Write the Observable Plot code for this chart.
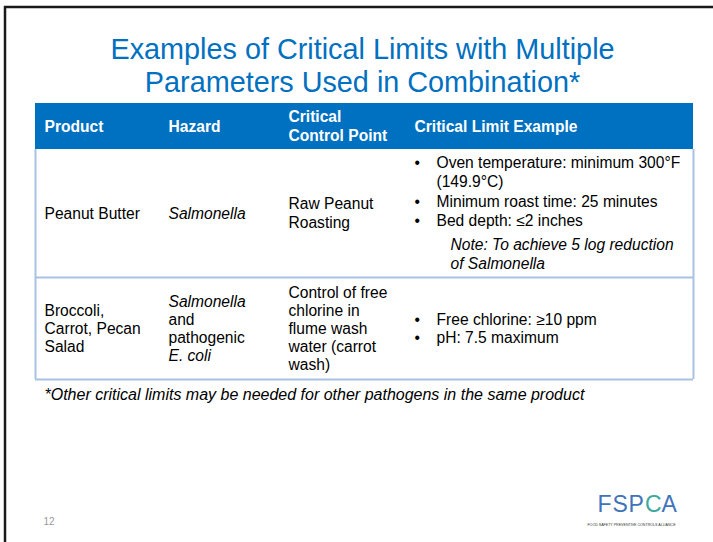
<!DOCTYPE html>
<html><head><meta charset="utf-8">
<script src="https://cdn.jsdelivr.net/npm/d3@7"></script>
<script src="https://cdn.jsdelivr.net/npm/@observablehq/plot@0.6"></script>
<style>html,body{margin:0;padding:0;background:#fff;overflow:hidden}</style>
</head><body><div id="chart"></div>
<script>
// ---- content ----
const titleLines = ["Examples of Critical Limits with Multiple", "Parameters Used in Combination*"];
const headers = ["Product", "Hazard", "Critical\nControl Point", "Critical Limit Example"];
const products = ["Peanut Butter", "Broccoli,\nCarrot, Pecan\nSalad"];
const hazards = ["Salmonella", "Salmonella\nand\npathogenic\nE. coli"];
const controlPoints = ["Raw Peanut\nRoasting", "Control of free\nchlorine in\nflume wash\nwater (carrot\nwash)"];
const limitBullets = [
  ["Oven temperature: minimum 300°F\n(149.9°C)", "Minimum roast time: 25 minutes", "Bed depth: ≤2 inches"],
  ["Free chlorine: ≥10 ppm", "pH: 7.5 maximum"]
];
const limitNotes = ["Note: To achieve 5 log reduction\nof Salmonella", ""];
const italicLines = ["Salmonella", "E. coli", "Note: To achieve 5 log reduction", "of Salmonella"];
const footnote = "*Other critical limits may be needed for other pathogens in the same product";
const slideNumber = "12";
const logoLetters = ["F", "S", "P", "C", "A"];
const logoTagline = "FOOD SAFETY PREVENTIVE CONTROLS ALLIANCE";

// ---- layout ----
const W = 713, H = 542;
const FONT = "Liberation Sans, Arial, Helvetica, sans-serif";
const fs = 15.6;
const titleX = 362, titleY = [49, 82];
const colX = [44, 168, 288, 414];
const bulletTextX = 436, noteX = 450;
const tableLeft = 35, tableRight = 693;
const rowEdges = [103, 149, 277, 379];
const lineH = [19, 19.5, 18];
const noteGap = 4;
const footY = 394;
const blue = "#0070C0", lineBlue = "#A8C2E3";

const center = r => (rowEdges[r] + rowEdges[r + 1]) / 2;

// build text lines
const plain = [], italic = [], bold = [], bullets = [];
function place(list, x, r) {
  let total = 0;
  list.forEach((l, i) => { if (i > 0) total += lineH[r] + (l.gap || 0); });
  let y = center(r) - total / 2;
  list.forEach((l, i) => {
    if (i > 0) y += lineH[r] + (l.gap || 0);
    const rec = {text: l.text, x: l.x ?? x, y};
    if (r === 0) bold.push(rec);
    else if (italicLines.includes(l.text)) italic.push(rec);
    else plain.push(rec);
    if (l.bullet) bullets.push({text: "•", x: colX[3], y});
  });
}
const simple = s => s.split("\n").map(t => ({text: t}));

headers.forEach((h, c) => place(simple(h), colX[c], 0));
products.forEach((p, i) => place(simple(p), colX[0], i + 1));
hazards.forEach((p, i) => place(simple(p), colX[1], i + 1));
controlPoints.forEach((p, i) => place(simple(p), colX[2], i + 1));
limitBullets.forEach((items, i) => {
  const list = [];
  items.forEach(it => it.split("\n").forEach((t, k) => list.push({text: t, x: bulletTextX, bullet: k === 0})));
  if (limitNotes[i]) limitNotes[i].split("\n").forEach((t, k) => list.push({text: t, x: noteX, gap: k === 0 ? noteGap : 0}));
  place(list, bulletTextX, i + 1);
});

const logoX = [597, 612, 628, 644.5, 661];
const logoFill = ["#3F74BA", "#3F74BA", "#3F74BA", "#3BA99C", "#3F74BA"];
const logo = logoLetters.map((t, i) => ({text: t, x: logoX[i], y: 504, fill: logoFill[i]}));

const chart = Plot.plot({
  width: W, height: H, margin: 0,
  x: {type: "linear", domain: [0, W], range: [0, W], axis: null},
  y: {type: "linear", domain: [0, H], range: [0, H], axis: null},
  style: {fontFamily: FONT, background: "#fff"},
  marks: [
    // slide frame
    Plot.ruleY([6.5], {x1: 4, x2: W, stroke: "#1a1a1a", strokeWidth: 2.5}),
    Plot.ruleX([4.5], {y1: 6, y2: H, stroke: "#1a1a1a", strokeWidth: 2.5}),
    // title
    Plot.text(titleLines.map((t, i) => ({text: t, y: titleY[i]})), {
      x: () => titleX, y: "y", text: "text", fontSize: 28.8, fill: blue, textAnchor: "middle", lineAnchor: "middle"
    }),
    // header band
    Plot.rect([{x1: tableLeft, x2: tableRight, y1: rowEdges[0], y2: rowEdges[1]}], {
      x1: "x1", x2: "x2", y1: "y1", y2: "y2", fill: blue
    }),
    // row separators and table sides
    Plot.ruleY(rowEdges.slice(2), {x1: tableLeft, x2: tableRight, stroke: lineBlue, strokeWidth: 2}),
    Plot.ruleX([tableLeft, tableRight], {y1: rowEdges[1], y2: rowEdges[3], stroke: lineBlue, strokeWidth: 2}),
    // cell text
    Plot.text(bold, {x: "x", y: "y", text: "text", fontSize: fs, fontWeight: "bold", fill: "#fff", textAnchor: "start", lineAnchor: "middle"}),
    Plot.text(plain, {x: "x", y: "y", text: "text", fontSize: fs, fill: "#000", textAnchor: "start", lineAnchor: "middle"}),
    Plot.text(italic, {x: "x", y: "y", text: "text", fontSize: fs, fontStyle: "italic", fill: "#000", textAnchor: "start", lineAnchor: "middle"}),
    Plot.text(bullets, {x: "x", y: "y", text: "text", fontSize: fs, fill: "#000", textAnchor: "start", lineAnchor: "middle"}),
    // footnote
    Plot.text([footnote], {x: () => colX[0], y: () => footY, text: d => d, fontSize: 16, fontStyle: "italic", fill: "#000", textAnchor: "start", lineAnchor: "middle"}),
    // slide number
    Plot.text([slideNumber], {x: () => 43, y: () => 521, text: d => d, fontSize: 10, fill: "#9a9a9a", textAnchor: "start", lineAnchor: "middle"}),
    // logo
    Plot.text(logo, {x: "x", y: "y", text: "text", fill: "fill", fontSize: 23, textAnchor: "start", lineAnchor: "middle"}),
    Plot.text([logoTagline], {x: () => 631, y: () => 524, text: d => d, fontSize: 3.6, fill: "#333", textAnchor: "middle", lineAnchor: "middle"})
  ]
});
document.getElementById("chart").appendChild(chart);
</script>
</body></html>
